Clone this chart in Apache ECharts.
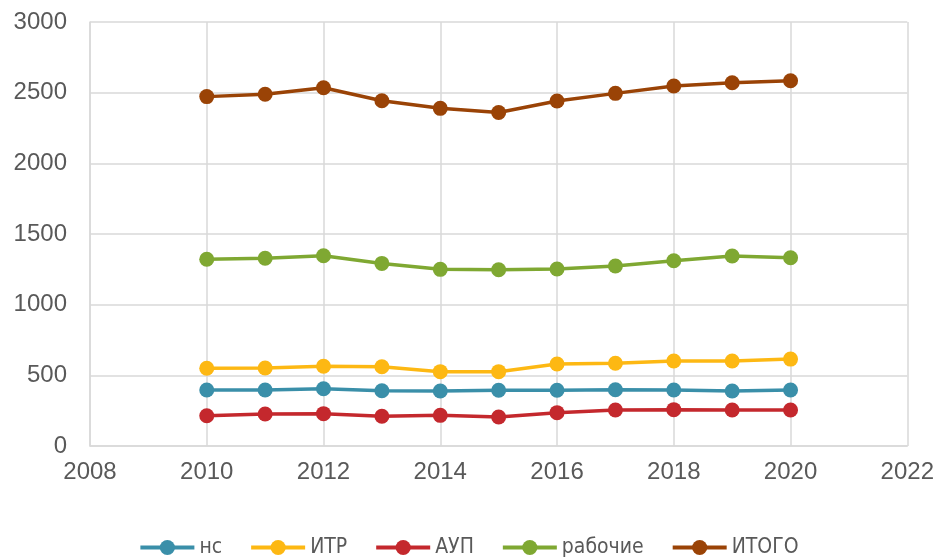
<!DOCTYPE html>
<html><head><meta charset="utf-8">
<script src="https://cdn.jsdelivr.net/npm/echarts@6/dist/echarts.min.js"></script>
<style>html,body{margin:0;padding:0;background:#fff}#c{width:937px;height:559px}</style>
</head><body><div id="c"></div>
<script>
const years = [2010,2011,2012,2013,2014,2015,2016,2017,2018,2019,2020];
const ns      = [396,396,405,391,389,394,394,398,396,389,396];
const itr     = [550,552,564,561,526,526,580,585,601,601,615];
const aup     = [214,226,229,210,217,205,236,255,257,255,255];
const rabochie= [1321,1328,1346,1292,1250,1247,1252,1274,1311,1344,1332];
const itogo   = [2472,2489,2535,2443,2389,2360,2441,2495,2547,2570,2584];
const seriesNames = ['нс','ИТР','АУП','рабочие','ИТОГО'];
const seriesData = [ns,itr,aup,rabochie,itogo];
const colors = ['#3A8FA9','#FDB813','#C4282D','#7FA832','#9A4306'];

const chart = echarts.init(document.getElementById('c'));
chart.setOption({
  animation:false,
  grid:{left:90,right:29,top:22,bottom:113,containLabel:false},
  legend:{top:532,left:'center',itemWidth:54,itemHeight:19,itemGap:27,
    lineStyle:{width:4},
    textStyle:{fontFamily:'DejaVu Sans Condensed',fontSize:21,color:'#595959'},
    data:seriesNames},
  xAxis:{type:'value',min:2008,max:2022,interval:2,
    axisLine:{show:true,lineStyle:{color:'#d9d9d9',width:1.5}},
    axisTick:{show:false},
    splitLine:{show:true,lineStyle:{color:'#d9d9d9',width:1.5}},
    axisLabel:{color:'#595959',fontSize:24,fontFamily:'Liberation Sans',margin:14,formatter:v=>String(v)}},
  yAxis:{type:'value',min:0,max:3000,interval:500,
    axisLine:{show:true,lineStyle:{color:'#d9d9d9',width:1.5}},
    axisTick:{show:false},
    splitLine:{show:true,lineStyle:{color:'#d9d9d9',width:1.5}},
    axisLabel:{color:'#595959',fontSize:24,fontFamily:'Liberation Sans',margin:23,formatter:v=>String(v)}},
  series: seriesNames.map((n,i)=>({
    name:n,type:'line',
    data:years.map((y,j)=>[y,seriesData[i][j]]),
    symbol:'circle',symbolSize:15,
    lineStyle:{width:3.5,color:colors[i]},
    itemStyle:{color:colors[i]}
  }))
});
</script></body></html>
